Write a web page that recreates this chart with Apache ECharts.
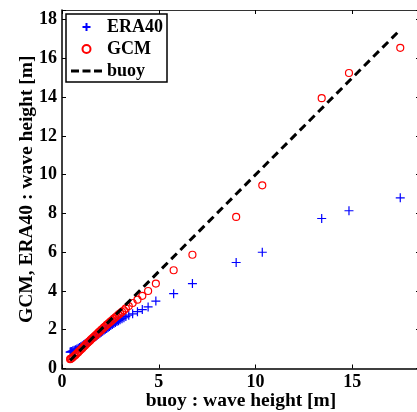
<!DOCTYPE html>
<html>
<head>
<meta charset="utf-8">
<script src="https://cdn.jsdelivr.net/npm/echarts@6/dist/echarts.min.js"></script>
<style>
html,body{margin:0;padding:0;background:#fff;}
#c{width:417px;height:412px;}
</style>
</head>
<body>
<div id="c"></div>
<script>
// buoy quantiles (x), shared by both model series
const buoyQ = [17.48, 14.83, 13.42, 10.35, 9.0, 6.74, 5.77, 4.85, 4.45, 4.15, 3.9, 3.65, 3.45, 3.3,
  3.2, 3.1, 3.0, 2.92, 2.84, 2.76, 2.68, 2.6, 2.52, 2.45, 2.38, 2.31, 2.24, 2.17, 2.1, 2.03,
  1.96, 1.89, 1.82, 1.75, 1.68, 1.61, 1.54, 1.47, 1.4, 1.33, 1.26, 1.19, 1.12, 1.05, 0.98,
  0.91, 0.84, 0.77, 0.7, 0.63, 0.56, 0.5, 0.45, 0.42];
const gcmQ = [16.55, 15.25, 13.95, 9.45, 7.82, 5.87, 5.07, 4.38, 4.0, 3.75, 3.55, 3.38, 3.22, 3.1,
  3.0, 2.92, 2.84, 2.78, 2.71, 2.64, 2.57, 2.5, 2.43, 2.37, 2.31, 2.25, 2.18, 2.12, 2.05, 1.99,
  1.92, 1.86, 1.79, 1.72, 1.66, 1.59, 1.53, 1.46, 1.39, 1.33, 1.26, 1.19, 1.12, 1.05, 0.98,
  0.91, 0.84, 0.77, 0.7, 0.64, 0.58, 0.53, 0.5, 0.48];
const era40Q = [8.81, 8.14, 7.74, 6.0, 5.47, 4.38, 3.86, 3.48, 3.18, 3.04, 2.93, 2.82, 2.75, 2.68,
  2.62, 2.57, 2.52, 2.47, 2.42, 2.37, 2.32, 2.27, 2.22, 2.17, 2.12, 2.07, 2.02, 1.97, 1.92, 1.87,
  1.82, 1.77, 1.72, 1.67, 1.62, 1.57, 1.52, 1.47, 1.42, 1.37, 1.32, 1.27, 1.22, 1.17, 1.13,
  1.09, 1.05, 1.01, 0.97, 0.94, 0.91, 0.88, 0.86, 0.85];
// reference line endpoints (buoy vs buoy)
const buoyLine = [0.42, 17.4];
const xTicks = [0, 5, 10, 15];
const yTicks = [0, 2, 4, 6, 8, 10, 12, 14, 16, 18];
const seriesNames = ['ERA40', 'GCM', 'buoy'];

const FONT = "'Liberation Serif','DejaVu Serif',serif";
const pts = (ys) => buoyQ.map((x, i) => [x, ys[i]]);
const PLUS = 'path://M5,0L5,10M0,5L10,5';

const chart = echarts.init(document.getElementById('c'));
const baseAxis = {
  type: 'value', min: 0, max: 18.5, splitLine: {show: false},
  axisLine: {show: true, onZero: false, lineStyle: {color: '#000', width: 1.5}},
  axisTick: {show: true, inside: true, length: 4, lineStyle: {color: '#000', width: 1}},
};
const nameStyle = {fontFamily: FONT, fontWeight: 'bold', fontSize: 19.5, color: '#000'};
chart.setOption({
  animation: false,
  backgroundColor: '#fff',
  grid: {left: 62, top: 10, width: 358, height: 358.5, containLabel: false, outerBoundsMode: 'none'},
  legend: {
    orient: 'vertical', left: 66, top: 14,
    data: [
      {name: seriesNames[0]},
      {name: seriesNames[1]},
      {name: seriesNames[2], icon: 'path://M0,0H8V3H0Z M11.5,0H19.5V3H11.5Z M23,0H31V3H23Z',
        itemStyle: {color: '#000', borderWidth: 0}}
    ],
    itemWidth: 31, itemHeight: 8, itemGap: 4,
    padding: [4, 4, 2, 5],
    backgroundColor: '#fff', borderColor: '#000', borderWidth: 1.5,
    textStyle: {fontFamily: FONT, fontWeight: 'bold', fontSize: 18, color: '#000'}
  },
  xAxis: [
    Object.assign({}, baseAxis, {
      position: 'bottom', interval: 5,
      name: 'buoy : wave height [m]', nameLocation: 'middle', nameGap: 22,
      nameMoveOverlap: false,
      nameTextStyle: nameStyle,
      axisLabel: {margin: 5, fontFamily: FONT, fontWeight: 'bold', fontSize: 18, color: '#000',
        formatter: v => (xTicks.includes(v) ? String(v) : '')}
    }),
    Object.assign({}, baseAxis, {
      position: 'top', interval: 5,
      axisLine: {show: true, onZero: false, lineStyle: {color: '#333', width: 1}},
      axisLabel: {show: false}
    })
  ],
  yAxis: [
    Object.assign({}, baseAxis, {
      position: 'left', interval: 2,
      name: 'GCM, ERA40 : wave height [m]', nameLocation: 'middle', nameGap: 25,
      nameMoveOverlap: false,
      nameTextStyle: nameStyle,
      axisLabel: {margin: 5, fontFamily: FONT, fontWeight: 'bold', fontSize: 18, color: '#000',
        formatter: v => (yTicks.includes(v) ? String(v) : '')}
    }),
    Object.assign({}, baseAxis, {
      position: 'right', interval: 2,
      axisLine: {show: true, onZero: false, lineStyle: {color: '#333', width: 1}},
      axisLabel: {show: false}
    })
  ],
  series: [
    {
      name: seriesNames[0], type: 'scatter', data: pts(era40Q),
      symbol: PLUS, symbolSize: 9,
      itemStyle: {color: 'rgba(0,0,0,0)', borderColor: '#0000ff', borderWidth: 1.2, opacity: 1}
    },
    {
      name: seriesNames[1], type: 'scatter', data: pts(gcmQ),
      symbol: 'circle', symbolSize: 7,
      itemStyle: {color: 'rgba(0,0,0,0)', borderColor: '#ff0000', borderWidth: 1.2, opacity: 1}
    },
    {
      name: seriesNames[2], type: 'line', data: buoyLine.map(v => [v, v]),
      symbol: 'none', itemStyle: {color: '#000'},
      lineStyle: {color: '#000', width: 3, type: [8, 5]}
    }
  ]
});
</script>
</body>
</html>
